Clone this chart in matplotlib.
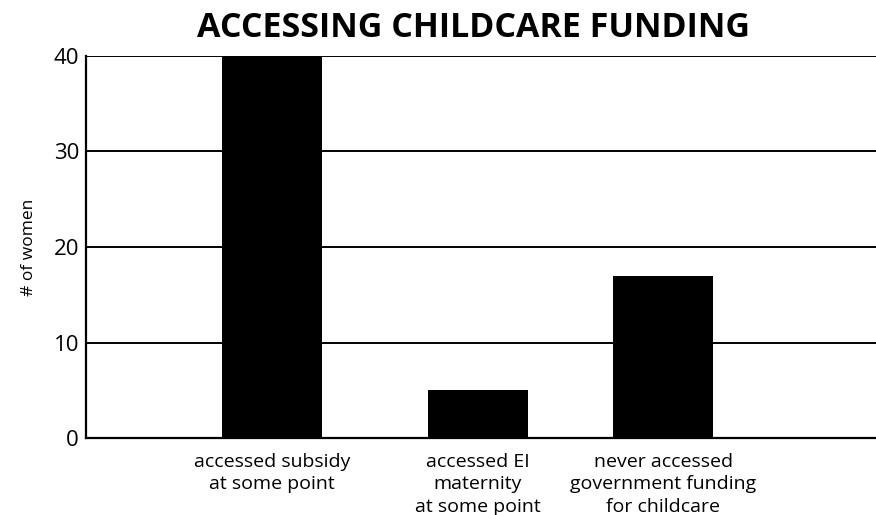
"""
Bar chart: accessing childcare funding
"""

import matplotlib
matplotlib.use('Agg')
import matplotlib.pyplot as plt

plt.rcParams['font.family'] = ['Open Sans', 'DejaVu Sans']

# Data
categories = ['accessed subsidy\nat some point',
              'accessed EI\nmaternity\nat some point',
              'never accessed\ngovernment funding\nfor childcare']
counts = [40, 5, 17]
positions = [1, 2, 2.9]
y_ticks = [0, 10, 20, 30, 40]

fig = plt.figure(figsize=(8.76, 5.15), dpi=100)
ax = fig.add_axes([0.0982, 0.1495, 0.9018, 0.7418])

ax.bar(positions, counts, width=0.485, color='black', zorder=3)

ax.set_xlim(0.097, 3.932)
ax.set_ylim(0, 40)
ax.set_yticks(y_ticks)
ax.set_xticks(positions)
ax.set_xticklabels(categories, fontsize=14, linespacing=1.3)
ax.tick_params(axis='both', length=0)
ax.tick_params(axis='y', labelsize=16, pad=5)
ax.tick_params(axis='x', pad=11)

# Horizontal grid lines
ax.yaxis.grid(True, color='black', linewidth=1.4, zorder=1)
ax.set_axisbelow(True)

for side in ['top', 'right']:
    ax.spines[side].set_visible(False)
for side in ['left', 'bottom']:
    ax.spines[side].set_linewidth(1.6)

ax.set_ylabel('# of women', fontsize=12.5, labelpad=12)

fig.text(0.541, 0.945, 'ACCESSING CHILDCARE FUNDING', fontsize=24.5,
         fontweight='bold', ha='center', va='center')

plt.savefig('out.png', dpi=100)
plt.close()
